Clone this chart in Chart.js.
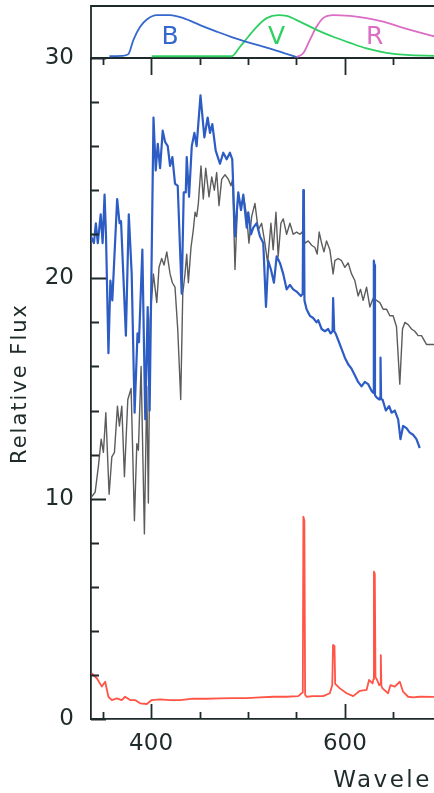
<!DOCTYPE html>
<html>
<head>
<meta charset="utf-8">
<script src="https://cdn.jsdelivr.net/npm/chart.js@4/dist/chart.umd.min.js"></script>
<style>
  html, body { margin: 0; padding: 0; background: #fff; overflow: hidden; }
  #wrap { position: relative; width: 434px; height: 793px; }
  #main, #filters { position: absolute; left: 0; top: 0; }
</style>
</head>
<body>
<div id="wrap">
  <canvas id="main" width="434" height="793"></canvas>
  <canvas id="filters" width="434" height="60"></canvas>
</div>
<script>
// ---- spectra (wavelength in nm, relative flux) ----
const grayWave = [338.9,342.3,345.7,348.5,350.8,353.3,356.7,359.5,362.2,365.3,367.3,369.8,372.5,376,379.4,382.8,385.3,386.9,389.7,393.1,395.6,397.2,399,402.4,405.9,408.2,411,413.4,416.2,419.6,422,424.7,427.5,430.6,432.7,435,436.8,438.5,441.2,443.6,445.4,447.1,448.8,451.5,453.9,456.4,459.8,462.6,465.3,467.7,470.1,472.9,476.3,479.7,482.5,484.2,486.6,489.4,492.5,495.9,498.7,501,503.8,507.2,510.6,514.1,517.5,520.3,523.7,526,528.9,531.2,534,536.4,539.9,543.3,546.7,550.2,553.6,556,558.8,562.2,565.7,569.1,571.4,573.5,576,578.4,581.1,584.5,587.9,589.7,593.1,596.6,600,603.4,606.9,610.3,613.7,616.2,618.9,622.4,625.8,629.2,632.7,636.1,639.5,643,646.4,649.8,653.3,656.7,659.5,661.9,665.3,668.8,672.2,675.6,679.1,684.2,689.4,694];
const grayFlux = [10.1,10.3,11.5,12.7,12.1,13.9,10.2,11.9,12.1,14.2,13.3,14.2,11.0,14.5,15.0,9.0,12.5,12.2,16.0,8.4,15.1,9.8,18.1,20.2,18.9,20.5,20.9,20.6,21.2,20.2,19.8,19.6,17.7,14.5,19.3,20.2,21.1,19.8,21.4,22.2,23.0,22.8,23.4,25.1,23.6,25.0,23.7,24.6,24.0,24.8,23.3,24.5,24.7,24.5,24.2,24.5,20.4,23.6,23.4,23.6,22.8,21.6,22.8,23.4,22.2,22.5,21.6,20.7,22.5,21.3,23.0,21.0,22.5,22.7,22.0,22.5,22.0,22.1,22.0,22.1,21.6,21.7,21.5,21.4,21.1,22.1,21.6,21.2,21.7,21.3,20.2,20.8,20.9,20.8,20.5,20.7,20.2,19.9,19.2,19.5,19.0,19.6,18.7,19.1,19.0,18.9,18.6,18.6,18.3,18.3,17.8,15.2,17.7,18.0,17.9,17.7,17.6,17.4,17.4,17.0,17.0,17.0];

const blueWave = [338,341,343,345,348,350,352,353.5,356,358,360,365,367.5,369,374,377,380,383,386,387.5,391,394,396.5,398.5,402.5,404.8,406.9,409.3,412,414.4,417.2,419.6,422,424.7,427.5,431.6,433.7,435.8,436.8,439.2,442,444.7,447,451,455,458.4,460.8,463.2,466.7,471.1,474.5,478,481.4,483.8,486.6,490,492.8,495.2,498.7,500.3,503.1,505.5,509,512.4,515.8,518.6,520.9,523.7,526.8,529.6,533,536.4,539.9,543.3,546.7,550.2,554.6,556.5,557.1,557.7,558.3,560.5,563.9,567.3,570.8,572.5,576,579.4,582.8,585.3,587.3,587.9,589,590.4,593.1,596.6,600,603.4,606.9,610.3,613.7,617.2,620.6,624,627.5,629.3,629.9,630.5,631.1,632.7,635.4,636.3,636.8,637.4,638.9,642.3,645.7,648.2,651.5,655,657.4,660.1,663.6,667,670.4,673.9,677.3];
const blueFlux = [21.9,21.6,22.5,21.6,22.9,21.6,23.8,21.9,16.6,19.9,19.0,23.6,22.5,22.6,17.4,22.9,20.2,13.9,17.5,17.1,21.3,13.6,18.7,14.0,27.3,24.9,26.1,25.0,26.7,26.2,26.0,25.1,25.5,24.3,24.2,19.3,23.9,23.9,25.5,23.7,26.0,26.6,26.0,28.3,26.4,27.3,26.6,27.0,25.8,25.2,25.7,25.4,25.7,25.4,21.9,23.9,23.1,23.8,22.3,23.0,22.0,22.3,22.5,21.9,21.6,18.7,20.8,20.4,19.8,21.0,20.7,20.2,19.5,19.7,19.5,19.4,19.2,19.3,24.0,23.8,19.0,18.6,18.3,18.2,18.0,18.1,17.7,17.6,17.7,17.5,17.6,19.1,17.6,17.5,17.2,16.8,16.4,16.1,15.9,15.6,15.3,15.1,15.3,15.2,14.9,14.8,20.8,20.6,14.7,14.6,14.5,14.6,16.4,14.5,14.5,14.0,14.2,13.9,14.0,13.6,12.7,13.3,13.2,13.0,12.9,12.7,12.3];

const redWave = [338.9,344,349.2,352.6,356,359.5,364.6,369.8,373.2,378.4,383.5,388.7,395.6,400.7,409.3,419.6,429.9,443.6,457.4,471.1,484.8,498.7,512.4,526.1,539.9,551.9,555.4,556.6,557.2,558.2,559,560.5,567.3,577.6,584.5,587,587.8,588.3,589.3,590,591.4,594.8,601.8,608.6,615.5,622.4,625,628.6,629.4,630,630.9,631.6,633.3,635.4,636.6,637.1,637.7,638.9,644.6,647.1,651.5,656.7,660.1,665.3,670.4,677.3,694];
const redFlux = [2.07,1.85,1.47,1.69,1.01,0.86,0.94,0.86,1.01,0.86,0.86,0.71,0.68,0.86,0.89,0.86,0.86,0.92,0.92,0.94,0.95,0.95,0.98,1.01,1.01,1.04,1.17,1.2,9.18,9.0,1.1,1.01,1.04,1.04,1.17,1.54,3.36,3.36,3.3,1.6,1.54,1.39,1.17,1.04,1.28,1.32,1.77,1.62,1.8,6.69,6.6,1.9,1.77,1.54,1.6,2.9,1.5,1.39,1.17,1.54,1.47,1.69,1.24,1.01,0.98,1.01,1.0];

// ---- filter transmission curves (normalised) ----
const filterBWave = [357,370,376.6,381.8,388.7,395.6,405.9,419.6,433.3,450.5,467.7,484.8,502,519.3,536.4,550.2];
const filterBResp = [0.04,0.05,0.09,0.42,0.72,0.89,0.99,0.99,0.92,0.76,0.61,0.47,0.35,0.24,0.12,0.02];
const filterVWave = [400.7,483.2,491.8,500.3,509,519.3,531.2,539.9,553.6,570.8,588,605.2,622.4,643,663.6,694];
const filterVResp = [0.04,0.04,0.26,0.49,0.72,0.92,0.99,0.97,0.84,0.65,0.49,0.35,0.22,0.12,0.07,0.05];
const filterRWave = [550.2,557,563.9,570.8,577.6,588,605.2,622.4,639.5,656.7,673.9,694];
const filterRResp = [0.02,0.11,0.42,0.72,0.92,0.99,0.97,0.92,0.84,0.72,0.61,0.49];
const filterNames = ['B', 'V', 'R'];
const filterLabelWave = [419.6, 529.4, 630.9];

// ---- axis ticks ----
const xTickLabels = ['400', '600'];
const xTickMarks = [350, 400, 450, 500, 550, 600, 650];
const yTickLabels = ['0', '10', '20', '30'];
const yTickMarks = [0, 2, 4, 6, 8, 10, 12, 14, 16, 18, 20, 22, 24, 26, 28, 30];

const X_MIN = 338, X_MAX = 692;
const INK = '#1f2a2a';
const FONT = "'DejaVu Sans', sans-serif";
const zip = (xs, ys) => xs.map((x, i) => ({ x, y: ys[i] }));

// inward ticks, the shared top rule and the axis titles
const mainFrame = {
  id: 'mainFrame',
  afterDraw(chart) {
    const { ctx, chartArea: a, scales: { x, y } } = chart;
    ctx.save();
    ctx.strokeStyle = INK;
    ctx.lineWidth = 1.8;
    ctx.beginPath();
    ctx.moveTo(a.left, a.top); ctx.lineTo(a.right + 2, a.top);
    yTickMarks.forEach(v => {
      const py = Math.round(y.getPixelForValue(v)) + 0.5;
      const len = yTickLabels.includes(String(v)) ? 15 : 8;
      ctx.moveTo(a.left, py); ctx.lineTo(a.left + len, py);
    });
    xTickMarks.forEach(v => {
      const px = Math.round(x.getPixelForValue(v)) + 0.5;
      const major = xTickLabels.includes(String(v));
      ctx.moveTo(px, a.bottom); ctx.lineTo(px, a.bottom - (major ? 15 : 7));
      ctx.moveTo(px, a.top); ctx.lineTo(px, a.top + (major ? 17 : 7));
    });
    ctx.stroke();

    ctx.fillStyle = INK;
    ctx.letterSpacing = '2px';
    ctx.font = '21px ' + FONT;
    ctx.textAlign = 'center';
    ctx.textBaseline = 'middle';
    ctx.save();
    ctx.translate(21, (a.top + a.bottom) / 2 - 5);
    ctx.rotate(-Math.PI / 2);
    ctx.fillText('Relative Flux', 0, 0);
    ctx.restore();

    ctx.letterSpacing = '2.5px';
    ctx.font = '23px ' + FONT;
    ctx.textAlign = 'left';
    ctx.textBaseline = 'alphabetic';
    ctx.fillText('Wavelength (nm)', x.getPixelForValue(588), 787);
    ctx.restore();
  }
};

new Chart(document.getElementById('main'), {
  type: 'line',
  data: {
    datasets: [
      { label: 'blue', data: zip(blueWave, blueFlux), borderColor: '#2c5cc4', borderWidth: 2.2, order: 1 },
      { label: 'gray', data: zip(grayWave, grayFlux), borderColor: '#5c5c5c', borderWidth: 1.4, order: 2 },
      { label: 'red', data: zip(redWave, redFlux), borderColor: '#ff5446', borderWidth: 1.8, order: 3 }
    ]
  },
  options: {
    responsive: false,
    devicePixelRatio: 1,
    animation: false,
    events: [],
    layout: { padding: { top: 58, left: 0, right: 0, bottom: 0 } },
    elements: { point: { radius: 0 }, line: { tension: 0, borderJoinStyle: 'round' } },
    plugins: { legend: { display: false }, tooltip: { enabled: false } },
    scales: {
      x: {
        type: 'linear', min: X_MIN, max: X_MAX,
        afterFit(s) { s.height = 74; },
        afterBuildTicks(s) { s.ticks = xTickLabels.map(t => ({ value: Number(t) })); },
        grid: { display: false, drawTicks: false },
        border: { display: true, color: INK, width: 1.8 },
        ticks: { padding: 11, color: INK, font: { family: FONT, size: 23 }, maxRotation: 0, autoSkip: false,
                 callback: v => String(v) }
      },
      y: {
        type: 'linear', min: 0, max: 30,
        afterFit(s) { s.width = 91; },
        afterBuildTicks(s) { s.ticks = yTickLabels.map(t => ({ value: Number(t) })); },
        grid: { display: false, drawTicks: false },
        border: { display: true, color: INK, width: 1.8 },
        ticks: { padding: 17, color: INK, font: { family: FONT, size: 23 }, callback: v => String(v) }
      }
    }
  },
  plugins: [mainFrame]
});

// filter panel: frame and band letters
const filterFrame = {
  id: 'filterFrame',
  afterDraw(chart) {
    const { ctx, chartArea: a, scales: { x, y } } = chart;
    ctx.save();
    ctx.strokeStyle = INK;
    ctx.lineWidth = 1.8;
    ctx.beginPath();
    ctx.moveTo(a.left, a.bottom + 2); ctx.lineTo(a.left, a.top); ctx.lineTo(a.right + 2, a.top);
    ctx.stroke();
    ctx.font = '25px ' + FONT;
    ctx.textAlign = 'center';
    ctx.textBaseline = 'middle';
    filterNames.forEach((n, i) => {
      ctx.fillStyle = chart.data.datasets[i].borderColor;
      ctx.fillText(n, x.getPixelForValue(filterLabelWave[i]), y.getPixelForValue(0.47));
    });
    ctx.restore();
  }
};

new Chart(document.getElementById('filters'), {
  type: 'line',
  data: {
    datasets: [
      { label: 'B', data: zip(filterBWave, filterBResp), borderColor: '#3468cc' },
      { label: 'V', data: zip(filterVWave, filterVResp), borderColor: '#2fcf62' },
      { label: 'R', data: zip(filterRWave, filterRResp), borderColor: '#dc6cc4' }
    ]
  },
  options: {
    responsive: false,
    devicePixelRatio: 1,
    animation: false,
    events: [],
    layout: { padding: { top: 6, left: 91, right: 0, bottom: 2 } },
    elements: { point: { radius: 0 }, line: { borderWidth: 1.8, cubicInterpolationMode: 'monotone' } },
    plugins: { legend: { display: false }, tooltip: { enabled: false } },
    scales: {
      x: { type: 'linear', min: X_MIN, max: X_MAX, display: false },
      y: { type: 'linear', min: 0, max: 1.2, display: false }
    }
  },
  plugins: [filterFrame]
});
</script>
</body>
</html>
